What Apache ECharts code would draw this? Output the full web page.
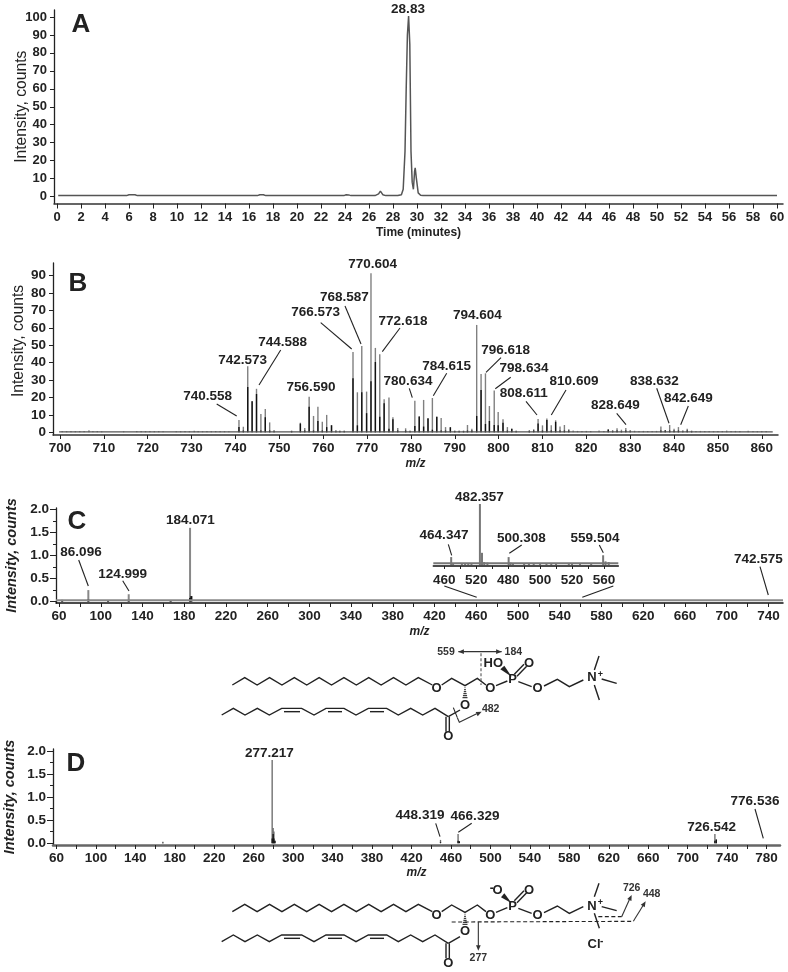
<!DOCTYPE html>
<html>
<head>
<meta charset="utf-8">
<title>LC-MS spectra</title>
<style>
html, body { margin: 0; padding: 0; background: #fff; }
#main { width: 788px; height: 972px; }
</style>
<script src="https://cdn.jsdelivr.net/npm/echarts@6/dist/echarts.min.js"></script>
</head>
<body>
<div id="main"></div>
<script>
// ---- panel A: chromatogram ----
var aTime = [0.1, 5.8, 6.0, 6.5, 6.7, 16.7, 16.9, 17.2, 17.4, 23.9, 24.1, 24.3, 24.5, 26.5, 26.8, 26.95, 27.15, 27.4, 28.4, 28.7, 28.85, 29.0, 29.1, 29.2, 29.3, 29.4, 29.5, 29.6, 29.7, 29.8, 29.85, 29.95, 30.1, 30.3, 30.5, 60];
var aIntensity = [0.5, 0.5, 1, 1, 0.5, 0.5, 1, 1, 0.5, 0.5, 1, 0.9, 0.5, 0.5, 1.5, 3, 1, 0.5, 0.5, 1, 4, 25, 60, 90, 100.5, 85, 25, 8, 4, 14, 16, 10, 2, 0.7, 0.5, 0.5];
var aTicksX = [0, 2, 4, 6, 8, 10, 12, 14, 16, 18, 20, 22, 24, 26, 28, 30, 32, 34, 36, 38, 40, 42, 44, 46, 48, 50, 52, 54, 56, 58, 60];
var aTicksY = [0, 10, 20, 30, 40, 50, 60, 70, 80, 90, 100];

// ---- panel B: full scan, tall grey stick and its dark lower part ----
var bMz = [740.8, 741.8, 742.8, 743.8, 744.8, 745.8, 746.8, 747.8, 748.8, 752.8, 754.8, 755.8, 756.8, 757.8, 758.8, 759.8, 760.8, 761.9, 762.9, 763.8, 764.8, 766.8, 767.8, 768.8, 769.9, 770.9, 771.9, 772.9, 773.9, 775, 775.9, 777, 778.8, 779.8, 780.9, 781.9, 782.9, 783.9, 784.9, 785.9, 786.9, 787.9, 789, 790, 791, 792, 792.9, 793.9, 795, 796, 797, 797.9, 799, 799.9, 801, 802, 803, 804, 807, 808, 809, 810, 811, 812, 813, 814, 815, 816, 825, 826, 827, 828, 829, 830, 837, 838, 839, 840, 841, 842, 843, 844];
var bTop = [7.1, 3.2, 38, 17.8, 25, 10.5, 13.4, 5.7, 1.3, 1, 5.5, 2.5, 20.5, 9.4, 14.7, 6, 10, 4.2, 1.3, 1, 1, 46.2, 23, 49.6, 23.4, 91.4, 48.5, 44.8, 19, 20, 8.6, 2.5, 2.3, 1, 18.2, 9.4, 18.6, 8.2, 19.7, 9, 8.2, 3, 2.9, 1, 1, 1, 4.2, 2.1, 61.7, 33.5, 33.9, 15.1, 24, 11.7, 7.5, 3, 2.1, 1, 1.3, 1.7, 7.7, 4, 7.9, 4, 6.9, 3.3, 4.2, 1.7, 1.9, 1.3, 2.3, 1.5, 2.5, 1.3, 3.3, 1.3, 4.2, 2.1, 3, 1.2, 2.1, 1];
var bCore = [3, 1, 26, 17.8, 22, 1, 8.6, 1, 0.5, 0.5, 5, 1, 14.7, 1, 6.5, 1, 3, 4, 0.5, 0.5, 0.5, 31, 4, 23, 11, 29.3, 40.4, 9, 16.7, 2, 7.5, 1, 1, 0.5, 3.6, 9, 3.3, 8, 1.5, 9, 1, 1, 2.9, 0.5, 0.5, 0.5, 1, 1, 9.4, 24.3, 4.8, 6.5, 4.2, 4, 5.5, 1, 2, 0.5, 0.5, 1, 5, 1, 7, 1, 6, 1, 1, 1, 1.5, 0.5, 1, 0.5, 1, 0.5, 1, 1, 1, 1, 1, 0.5, 1, 0.5];
var bNoiseMz = [700.5, 701.5, 702.5, 703.5, 704.5, 705.5, 706.6, 707.5, 708.5, 709.5, 714.5, 717.5, 718.5, 719.5, 720.5, 721.5, 722.5, 723.5, 726.5, 727.5, 728.5, 729.5, 730.6, 731.5, 732.5, 733.5, 734.5, 735.5, 736.5, 737.5, 738.5, 817, 818, 819, 820, 821, 822.9, 824, 831, 832, 833, 834, 835, 836, 845, 846, 847, 848, 849, 850, 851, 852, 853, 854, 855, 856.9, 858, 859, 860, 861];
var bNoise = [0.7, 0.7, 0.7, 0.7, 0.7, 0.7, 1.2, 0.7, 0.7, 0.6, 0.6, 0.7, 0.8, 0.7, 0.8, 0.7, 0.7, 0.6, 0.6, 0.7, 0.7, 0.7, 0.9, 0.7, 0.7, 0.7, 0.7, 0.7, 0.7, 0.7, 0.6, 1, 0.8, 0.8, 0.8, 0.7, 1, 0.8, 0.9, 0.8, 0.8, 0.7, 0.8, 0.8, 0.8, 0.8, 0.7, 0.7, 0.7, 0.7, 0.7, 1, 0.8, 0.8, 0.8, 0.9, 0.7, 0.7, 0.8, 0.7];
var bTicksX = [700, 710, 720, 730, 740, 750, 760, 770, 780, 790, 800, 810, 820, 830, 840, 850, 860];
var bTicksY = [0, 10, 20, 30, 40, 50, 60, 70, 80, 90];

// ---- panel C: product ions of 742.575 ----
var cMz = [63, 88.1, 107, 126.8, 167, 185.6, 186.8];
var cTop = [0.04, 0.25, 0.03, 0.16, 0.03, 1.6, 0.12];
var cCore = [0.02, 0.05, 0.02, 0.04, 0.02, 0.08, 0.12];
var msTicksLabel = [60, 100, 140, 180, 220, 260, 300, 340, 380, 420, 460, 500, 540, 580, 620, 660, 700, 740];
var cTicksX = [60, 80, 100, 120, 140, 160, 180, 200, 220, 240, 260, 280, 300, 320, 340, 360, 380, 400, 420, 440, 460, 480, 500, 520, 540, 560, 580, 600, 620, 640, 660, 680, 700, 720, 740];
var msTicksY = [0, 0.25, 0.5, 0.75, 1, 1.25, 1.5, 1.75, 2];
var msLabelsY = [0, 0.5, 1, 1.5, 2];

// inset of panel C, intensity is relative to the 482 peak
var insetMz = [464.3, 465.5, 471, 473, 475, 477, 482.3, 483.6, 485, 487, 500.3, 501.5, 503, 510, 513, 516, 520, 524, 527, 530, 538, 540, 545, 552, 559.5, 561, 563];
var insetTop = [13, 3, 2, 3, 3, 3, 100, 20, 5, 4, 13, 4, 2, 2, 3, 3, 2, 2, 3, 3, 2, 2, 2, 2, 16, 6, 5];
var insetTicks = [460, 470, 480, 490, 500, 510, 520, 530, 540, 550, 560];
var insetLabelTicks = [460, 480, 500, 520, 540, 560];
var insetTickLabels = ['460', '520', '480', '500', '520', '560'];

// ---- panel D: negative ions ----
var dMz = [167.9, 278.7, 279.7, 280.5, 281.5, 449.4, 467.2, 468.5, 727.6, 729];
var dTop = [0.03, 1.8, 0.33, 0.25, 0.05, 0.07, 0.2, 0.04, 0.2, 0.08];
var dCore = [0.01, 0.1, 0.2, 0.1, 0.05, 0.02, 0.05, 0.04, 0.05, 0.08];
var dLabelsX = [60, 100, 140, 180, 220, 260, 300, 340, 380, 420, 460, 500, 540, 580, 620, 660, 700, 740, 780];
var dTicksX = [60, 80, 100, 120, 140, 160, 180, 200, 220, 240, 260, 280, 300, 320, 340, 360, 380, 400, 420, 440, 460, 480, 500, 520, 540, 560, 580, 600, 620, 640, 660, 680, 700, 720, 740, 760, 780];

// peak labels: text, label centre, leader line in page pixels
var peakNotes = [
	['28.83', 408, 9],
	['740.558', 207.7, 396, 216.7, 404, 236.7, 416],
	['742.573', 242.7, 360],
	['744.588', 282.7, 342.3, 280.7, 350, 259, 385],
	['756.590', 311, 387],
	['766.573', 315.7, 312.7, 320.7, 322.7, 351.7, 349],
	['768.587', 344.3, 297.3, 345, 306, 361, 344],
	['770.604', 372.7, 264.3],
	['772.618', 403, 321, 400, 328, 382.3, 351.7],
	['780.634', 408, 381.3, 409.3, 388.3, 412.3, 397.7],
	['784.615', 446.7, 366, 446.7, 373.3, 433.3, 395.7],
	['794.604', 477.3, 315.7],
	['796.618', 505.7, 350, 501, 357.7, 486, 372.3],
	['798.634', 524, 368.7, 510.7, 377.3, 495.3, 388.7],
	['808.611', 523.7, 393.7, 526, 401.3, 537, 415],
	['810.609', 574, 381.3, 566, 390, 551.3, 415],
	['828.649', 615.3, 405.7, 616.7, 413.3, 626, 424.7],
	['838.632', 654.3, 381, 656.7, 388.3, 669, 423.3],
	['842.649', 688.3, 398, 688.3, 406, 680.7, 424.7],
	['86.096', 81, 552.7, 78.7, 560, 88.3, 586],
	['124.999', 122.7, 574, 122.7, 580.7, 129, 591],
	['184.071', 190.3, 520.7],
	['482.357', 479.3, 497.7],
	['464.347', 444, 535.7, 448.3, 544.3, 451.7, 555.3],
	['500.308', 521.3, 538, 521.7, 545, 509.3, 553.3],
	['559.504', 595, 538, 599.3, 545, 603.3, 552.7],
	['742.575', 758.3, 559, 760, 566.7, 768.3, 595],
	['277.217', 269.3, 753.3],
	['448.319', 420, 815.3, 435.7, 823.3, 440, 836.7],
	['466.329', 475, 816, 471.7, 823.3, 458.3, 832.3],
	['726.542', 711.7, 827.7],
	['776.536', 755, 801.7, 755, 809, 763.3, 838.3]
];

var FONT = 'Liberation Sans, Arial, sans-serif';
var INK = '#222';

/**
 * 把 x、y 两个数组合成 [x, y] 点
 */
function pairs(xs, ys) {
	return xs.map(function(x, i) {
		return [x, ys[i]];
	});
}

/**
 * stick spectrum as a thin bar series
 */
function sticks(grid, xs, ys, color, z, width) {
	return {
		type: 'bar',
		xAxisIndex: grid,
		yAxisIndex: grid,
		barWidth: width || 1.4,
		barGap: '-100%',
		itemStyle: { color: color },
		z: z,
		data: pairs(xs, ys),
		silent: true
	};
}

// baseline noise of the spectra, drawn as a two point line
function baseline(grid, x0, x1, y, color, width) {
	return {
		type: 'line',
		xAxisIndex: grid,
		yAxisIndex: grid,
		symbol: 'none',
		z: 4,
		lineStyle: { color: color, width: width },
		data: [[x0, y], [x1, y]],
		silent: true
	};
}

function makeX(grid, min, max, ticks, labels, name, nameGap, size, tickLen, margin, lineColor, lineWidth) {
	return {
		gridIndex: grid,
		type: 'value',
		min: min,
		max: max,
		name: name,
		nameLocation: 'middle',
		nameGap: nameGap,
		nameMoveOverlap: false,
		nameTextStyle: { fontFamily: FONT, fontWeight: 'bold', fontStyle: name === 'm/z' ? 'italic' : 'normal', fontSize: 12, color: INK },
		splitLine: { show: false },
		axisLine: { onZero: false, lineStyle: { color: lineColor, width: lineWidth } },
		axisTick: { length: tickLen, customValues: ticks, lineStyle: { color: '#222', width: 1 } },
		axisLabel: { customValues: labels, margin: margin, fontFamily: FONT, fontWeight: 'bold', fontSize: size, color: INK, hideOverlap: false, formatter: '{value}' }
	};
}

function makeY(grid, min, max, ticks, labels, name, nameGap, italic, size, digits, namePad) {
	return {
		gridIndex: grid,
		type: 'value',
		min: min,
		max: max,
		name: name,
		nameLocation: 'middle',
		nameGap: nameGap,
		nameRotate: 90,
		nameMoveOverlap: false,
		nameTextStyle: { fontFamily: FONT, fontWeight: italic ? 'bold' : 'normal', fontStyle: italic ? 'italic' : 'normal', fontSize: italic ? 14.5 : 15.7, color: INK, padding: namePad || 0 },
		splitLine: { show: false },
		axisLine: { onZero: false, lineStyle: { color: '#222', width: 1.3 } },
		axisTick: { length: italic ? 3 : 4, customValues: ticks, lineStyle: { color: '#222', width: 1 } },
		axisLabel: {
			customValues: labels,
			margin: 7,
			fontFamily: FONT,
			fontWeight: 'bold',
			fontSize: size,
			color: INK,
			hideOverlap: false,
			formatter: function(v) {
				return v.toFixed(digits);
			}
		}
	};
}

// C、D 的长刻度单独用一条 y 轴画
function majorTicks(grid, min, max, values) {
	return {
		gridIndex: grid,
		type: 'value',
		position: 'left',
		min: min,
		max: max,
		splitLine: { show: false },
		axisLine: { show: false, onZero: false },
		axisTick: { length: 6, customValues: values, lineStyle: { color: '#222', width: 1 } },
		axisLabel: { show: false }
	};
}

// ---- graphic helpers, everything here is annotation and not data ----
var extras = [];

function addText(text, x, y, size, color) {
	extras.push({
		type: 'text',
		x: x,
		y: y,
		silent: true,
		z: 20,
		style: {
			text: text,
			fontFamily: FONT,
			fontWeight: 'bold',
			fontSize: size,
			fill: color || INK,
			align: 'center',
			verticalAlign: 'middle'
		}
	});
}

function addLine(pts, width, color, dash) {
	extras.push({
		type: 'polyline',
		silent: true,
		z: 20,
		shape: { points: pts },
		style: { stroke: color || '#222', lineWidth: width || 1, lineDash: dash || null, fill: null, lineJoin: 'miter' }
	});
}

function addPoly(pts, color) {
	extras.push({
		type: 'polygon',
		silent: true,
		z: 20,
		shape: { points: pts },
		style: { fill: color || '#222' }
	});
}

function addArrow(x0, y0, x1, y1, headLen) {
	var a = Math.atan2(y1 - y0, x1 - x0);
	var h = headLen || 6;
	addPoly([
		[x1, y1],
		[x1 - h * Math.cos(a - 0.4), y1 - h * Math.sin(a - 0.4)],
		[x1 - h * Math.cos(a + 0.4), y1 - h * Math.sin(a + 0.4)]
	], '#333');
}

peakNotes.forEach(function(n) {
	addText(n[0], n[1], n[2], 13.5);
	if (n.length > 3) {
		addLine([[n[3], n[4]], [n[5], n[6]]], 1.1);
	}
});

addText('A', 81, 25, 26);
addText('B', 78, 284, 26);
addText('C', 77, 522, 26);
addText('D', 76, 764, 26);

// link lines from the inset down to the C axis
addLine([[444.3, 586], [476.7, 597.3]], 1.1);
addLine([[613.3, 586], [582.3, 597.3]], 1.1);

/**
 * 分子结构 zoomed coordinates are 3x page pixels
 * @param {Number} ox 页面 x
 * @param {Number} oy 页面 y
 * @param {Number} dy 两个结构之间的纵向差
 */
function drawLipid(ox, oy, dy) {
	function P(x, y) {
		return [ox + x / 3, oy + (y + dy) / 3];
	}
	function seg(list, width, color, dash) {
		addLine(list.map(function(p) {
			return P(p[0], p[1]);
		}), width || 1.4, color, dash);
	}
	function atom(t, x, y, size, color) {
		var p = P(x, y);
		addText(t, p[0], p[1], size || 13, color);
	}
	// alkyl chain, O at the end
	var chain = [];
	for (var k = 0; k <= 15; k++) {
		chain.push([97 + k * 37.2, k % 2 ? 128 : 150]);
	}
	chain.push([697, 150]);
	seg(chain);
	atom('O', 710, 161);
	// glycerol backbone to P and choline
	seg([[725, 150], [755, 130], [795, 152], [832, 130], [858, 150]]);
	atom('O', 871, 161);
	seg([[888, 152], [922, 138]]);
	atom('P', 938, 133);
	seg([[955, 140], [995, 155]]);
	atom('O', 1013, 161);
	seg([[1032, 153], [1072, 133], [1108, 155], [1150, 135]]);
	// sn-2 oxygen hashed bond
	for (var h = 0; h < 6; h++) {
		seg([[795 - h * 1.3 - 1, 158 + h * 6], [795 + h * 1.3 + 1, 158 + h * 6]], 1.1);
	}
	atom('O', 795, 210);
	// ester and C=O
	seg([[780, 225], [745, 245]]);
	seg([[738, 245], [738, 290]]);
	seg([[748, 245], [748, 290]]);
	atom('O', 745, 305);
	// lower chain with three double bonds
	seg([[65, 240], [100, 220], [135, 240], [172, 220], [208, 240], [245, 220], [305, 220], [342, 240], [378, 220], [432, 220], [468, 240], [505, 220], [560, 220], [595, 240], [632, 220], [668, 240], [705, 220], [745, 245]]);
	seg([[252, 230], [300, 230]]);
	seg([[384, 230], [426, 230]]);
	seg([[510, 230], [552, 230]]);
}

// structure under C
drawLipid(200, 635, 0);
(function() {
	function P(x, y) {
		return [200 + x / 3, 635 + y / 3];
	}
	function seg(list, width, color, dash) {
		addLine(list.map(function(p) {
			return P(p[0], p[1]);
		}), width || 1.4, color, dash);
	}
	addText('N', 200 + 1176 / 3, 635 + 127 / 3, 13);
	addText('+', 200 + 1201 / 3, 635 + 120 / 3, 9);
	seg([[1183, 105], [1197, 63]]);
	seg([[1205, 132], [1250, 145]]);
	seg([[1183, 150], [1198, 195]]);
	addText('HO', 200 + 880 / 3, 635 + 85 / 3, 13);
	addPoly([P(935, 125), P(901, 103), P(913, 92)]);
	seg([[943, 118], [972, 88]]);
	seg([[951, 124], [980, 94]]);
	addText('O', 200 + 987 / 3, 635 + 85 / 3, 13);
	seg([[775, 50], [905, 50]], 1.1, '#333');
	var a = P(775, 50), b = P(905, 50);
	addArrow(b[0], b[1], a[0], a[1]);
	addArrow(a[0], a[1], b[0], b[1]);
	addText('559', 200 + 738 / 3, 635 + 52 / 3, 10.5, '#333');
	addText('184', 200 + 940 / 3, 635 + 52 / 3, 10.5, '#333');
	seg([[843, 55], [843, 150]], 1.1, '#555', [3, 2]);
	seg([[760, 218], [772, 248]], 1.1);
	seg([[772, 248], [778, 262], [830, 236]], 1.1, '#333');
	var c = P(778, 262), d = P(845, 230);
	addArrow(c[0], c[1], d[0], d[1]);
	addText('482', 200 + 872 / 3, 635 + 222 / 3, 10.5, '#333');
})();

// structure under D
drawLipid(200, 860, 5);
(function() {
	function P(x, y) {
		return [200 + x / 3, 860 + y / 3];
	}
	function seg(list, width, color, dash) {
		addLine(list.map(function(p) {
			return P(p[0], p[1]);
		}), width || 1.4, color, dash);
	}
	addText('N', 200 + 1176 / 3, 860 + 138 / 3, 13);
	addText('+', 200 + 1201 / 3, 860 + 128 / 3, 9);
	seg([[1183, 110], [1197, 70]]);
	seg([[1205, 140], [1250, 152]]);
	seg([[1183, 160], [1198, 205]]);
	addText('-', 200 + 875 / 3, 860 + 85 / 3, 12);
	addText('O', 200 + 893 / 3, 860 + 92 / 3, 13);
	addPoly([P(935, 130), P(903, 112), P(913, 100)]);
	seg([[943, 122], [972, 92]]);
	seg([[951, 128], [980, 98]]);
	addText('O', 200 + 987 / 3, 860 + 92 / 3, 13);
	seg([[755, 186], [1300, 184]], 1.1, '#222', [4, 2.5]);
	seg([[835, 186], [835, 262]], 1.1, '#333');
	var a = P(835, 186), b = P(835, 272);
	addArrow(a[0], a[1], b[0], b[1]);
	addText('277', 200 + 835 / 3, 860 + 295 / 3, 10.5, '#333');
	seg([[1195, 170], [1265, 170]], 1.1, '#222', [4, 2.5]);
	seg([[1265, 170], [1290, 115]], 1.1, '#333');
	a = P(1265, 170);
	b = P(1295, 105);
	addArrow(a[0], a[1], b[0], b[1]);
	addText('726', 200 + 1295 / 3, 860 + 85 / 3, 10.5, '#333');
	seg([[1300, 184], [1332, 132]], 1.1, '#333');
	a = P(1300, 184);
	b = P(1337, 124);
	addArrow(a[0], a[1], b[0], b[1]);
	addText('448', 200 + 1355 / 3, 860 + 103 / 3, 10.5, '#333');
	addText('Cl', 200 + 1182 / 3, 860 + 252 / 3, 13);
	addText('-', 200 + 1205 / 3, 860 + 244 / 3, 10);
})();

var myChart = echarts.init(document.getElementById('main'), null, { renderer: 'canvas' });

var option = {
	animation: false,
	backgroundColor: '#fff',
	// v6 默认会把 grid 缩进容器，这里按原图固定位置
	grid: [
		{ left: 54, top: 10, width: 729, height: 193.5, outerBoundsMode: 'none' },
		{ left: 53, top: 263, width: 725, height: 172, outerBoundsMode: 'none' },
		{ left: 56, top: 508, width: 727, height: 95, outerBoundsMode: 'none' },
		{ left: 53, top: 749, width: 727, height: 96, outerBoundsMode: 'none' },
		{ left: 433.3, top: 504, width: 185, height: 62, outerBoundsMode: 'none' }
	],
	xAxis: [
		makeX(0, -0.25, 60.5, aTicksX, aTicksX, 'Time (minutes)', 23, 13, 5, 7, '#333', 1.5),
		makeX(1, 698.4, 863.7, bTicksX, bTicksX, 'm/z', 23, 13.5, 4, 6, '#333', 1.5),
		makeX(2, 57.1, 754, cTicksX, msTicksLabel, 'm/z', 23, 13.5, 4, 6, '#111', 1.5),
		makeX(3, 56.5, 793.6, dTicksX, dLabelsX, 'm/z', 22, 13.5, 4, 6, '#666', 2.5),
		makeX(4, 453.1, 569, insetTicks, insetLabelTicks, '', 0, 13.5, 3, 7, '#111', 1.5)
	],
	yAxis: [
		makeY(0, -3.9, 103.9, aTicksY, aTicksY, 'Intensity, counts', 24, false, 13, 0),
		makeY(1, -1.55, 97.3, bTicksY, bTicksY, 'Intensity, counts', 26, false, 13.5, 0, [0, 0, 0, 16]),
		makeY(2, -0.03, 2.03, msTicksY, msLabelsY, 'Intensity, counts', 37, true, 13.5, 1),
		makeY(3, -0.04, 2.04, msTicksY, msLabelsY, 'Intensity, counts', 36, true, 13.5, 1),
		makeY(4, -1.6, 100, [], [], '', 0, false, 13, 0),
		majorTicks(2, -0.03, 2.03, msLabelsY),
		majorTicks(3, -0.04, 2.04, msLabelsY)
	],
	series: [
		{
			type: 'line',
			xAxisIndex: 0,
			yAxisIndex: 0,
			symbol: 'none',
			lineStyle: { color: '#555', width: 1.5 },
			data: pairs(aTime, aIntensity),
			silent: true
		},
		sticks(1, bNoiseMz, bNoise, '#888', 2),
		sticks(1, bMz, bTop, '#808080', 2),
		sticks(1, bMz, bCore, '#111', 3),
		baseline(1, 699.8, 862.5, 0.3, '#555', 1.2),
		sticks(2, cMz, cTop, '#888', 2, 2),
		sticks(2, cMz, cCore, '#111', 3, 2),
		baseline(2, 57.1, 754, 0.03, '#888', 2),
		sticks(3, dMz, dTop, '#666', 2, 1.3),
		sticks(3, dMz, dCore, '#111', 3, 1.3),
		sticks(4, insetMz, insetTop, '#777', 2, 2),
		baseline(4, 453.1, 569, 3, '#777', 2)
	],
	graphic: { elements: extras }
};

// 插图的坐标标签照原图印错的文字
option.xAxis[4].axisLabel.formatter = function(v) {
	return insetTickLabels[insetLabelTicks.indexOf(v)];
};
option.yAxis[4].show = false;

myChart.setOption(option);
</script>
</body>
</html>
